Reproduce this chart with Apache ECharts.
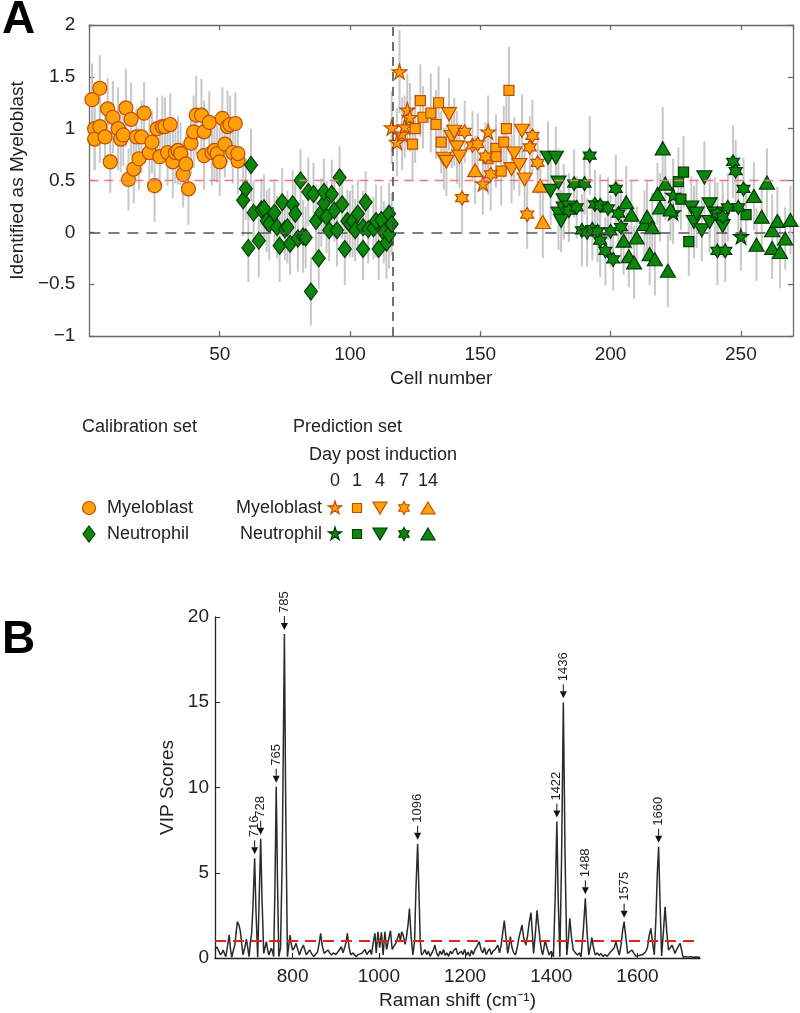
<!DOCTYPE html>
<html lang="en">
<head>
<meta charset="UTF-8">
<title>Myeloblast prediction and VIP scores</title>
<script src="https://cdn.jsdelivr.net/npm/echarts@6.0.0/dist/echarts.min.js"></script>
<style>
  html, body { margin: 0; padding: 0; background: #fff; }
  #chart { width: 800px; height: 1013px; }
</style>
</head>
<body>
<div id="chart"></div>
<script>
// ---- panel A data: [cell number, score, half error bar] ----
const calMyelo = [
  [1,1.28,0.35],[2,1.00,0.40],[2,0.90,0.30],[4,1.39,0.32],[4,1.02,0.35],[6,0.92,0.28],[7,1.19,0.30],[8,0.68,0.30],
  [9,1.11,0.35],[11,1.00,0.40],[12,0.90,0.32],[13,0.94,0.30],[14,1.20,0.38],[15,0.51,0.30],[16,1.09,0.35],[17,0.61,0.33],
  [18,0.92,0.28],[19,0.71,0.30],[20,0.92,0.35],[21,1.15,0.30],[23,0.77,0.32],[24,0.87,0.30],[25,0.45,0.35],[26,1.00,0.30],
  [27,0.73,0.33],[28,1.02,0.30],[29,1.02,0.28],[30,0.77,0.32],[31,1.04,0.30],[32,0.68,0.35],[33,0.77,0.30],[34,0.79,0.33],
  [35,0.76,0.30],[36,0.56,0.32],[37,0.66,0.30],[38,0.42,0.35],[39,0.86,0.30],[40,0.97,0.35],[41,1.13,0.38],[43,1.13,0.35],
  [44,0.97,0.30],[44,0.74,0.33],[46,1.06,0.30],[47,0.77,0.32],[48,0.79,0.30],[49,0.76,0.28],[50,0.68,0.33],[51,1.10,0.30],
  [52,0.85,0.32],[53,1.02,0.35],[54,1.04,0.28],[55,0.77,0.30],[56,1.05,0.30],[57,0.69,0.32],[57,0.76,0.30]
];
const calNeutro = [
  [59,0.31,0.35],[60,0.42,0.30],[61,-0.15,0.33],[62,0.65,0.35],[63,0.19,0.30],[65,-0.08,0.35],[66,0.22,0.30],[67,0.23,0.33],
  [68,0.11,0.30],[69,0.08,0.35],[71,0.19,0.32],[72,0.05,0.30],[73,-0.13,0.35],[74,0.29,0.33],[75,0.03,0.30],[76,0.05,0.35],
  [77,-0.11,0.30],[78,0.27,0.33],[79,0.18,0.30],[80,-0.06,0.32],[81,0.50,0.30],[82,-0.04,0.35],[83,-0.05,0.30],[84,0.39,0.33],
  [85,-0.57,0.33],[86,0.37,0.30],[87,0.11,0.35],[88,-0.25,0.30],[89,0.19,0.33],[90,0.28,0.30],[90,0.39,0.32],[91,0.15,0.35],
  [92,0.02,0.30],[93,0.37,0.33],[94,0.21,0.30],[95,0.02,0.35],[96,0.53,0.30],[97,0.27,0.33],[98,-0.16,0.35],[99,0.11,0.30],
  [100,0.08,0.32],[101,0.11,0.35],[102,0.02,0.30],[103,0.18,0.33],[105,-0.16,0.30],[105,0.05,0.35],[106,0.29,0.30],[107,0.03,0.33],
  [109,0.04,0.30],[110,0.11,0.35],[111,-0.16,0.30],[112,0.12,0.33],[113,0.00,0.30],[114,-0.10,0.35],[115,0.18,0.30],[115,-0.02,0.33],
  [116,0.08,0.30]
];
// prediction set, myeloblast, by day post induction
const myeloDay0 = [[116,1.01,0.35],[118,0.87,0.33],[119,1.55,0.40],[120,0.95,0.35],[121,1.02,0.30],[122,1.18,0.35],[123,1.11,0.33],[151,0.47,0.30],[153,0.97,0.35]];
const myeloDay1 = [[124,0.85,0.35],[125,1.00,0.33],[127,1.27,0.35],[128,1.11,0.30],[131,1.15,0.38],[133,1.04,0.33],[134,1.25,0.35],[135,0.87,0.30],
  [153,0.71,0.35],[156,0.81,0.33],[156,0.73,0.30],[158,0.59,0.33],[159,0.87,0.35],[160,1.00,0.33],[161,1.37,0.42]];
const myeloDay4 = [[136,0.71,0.30],[137,0.68,0.33],[138,1.14,0.35],[139,0.92,0.30],[140,0.97,0.33],[141,0.82,0.35],[142,0.73,0.30],
  [162,0.61,0.33],[163,0.76,0.35],[165,0.65,0.30],[166,0.98,0.35],[167,0.51,0.33]];
const myeloDay7 = [[143,0.33,0.35],[144,0.97,0.30],[147,0.84,0.33],[149,0.85,0.30],[152,0.73,0.33],[154,0.56,0.35],[168,0.17,0.33],[169,0.82,0.30],[170,0.93,0.35],[172,0.67,0.30]];
const myeloDay14 = [[148,0.60,0.33],[173,0.45,0.35],[174,0.10,0.35]];
// prediction set, neutrophil, by day post induction
const neutroDay0 = [[224,0.36,0.35],[224,0.19,0.30],[250,-0.04,0.33]];
const neutroDay1 = [[226,0.49,0.33],[227,0.32,0.30],[228,0.58,0.35],[230,-0.09,0.33],[252,0.17,0.30]];
const neutroDay4 = [[176,0.72,0.35],[177,0.40,0.33],[179,0.72,0.30],[180,0.18,0.35],[180,0.48,0.33],[181,0.11,0.30],[182,0.31,0.35],[182,0.23,0.30],
  [184,0.24,0.33],[231,0.24,0.30],[232,0.10,0.35],[233,0.18,0.33],[235,0.02,0.30],[236,0.53,0.35],[238,0.27,0.33],[238,0.10,0.30],[240,0.18,0.35],[243,0.06,0.30]];
const neutroDay7 = [[184,0.21,0.30],[186,0.47,0.33],[187,0.24,0.30],[189,0.02,0.35],[190,0.47,0.30],[191,0.00,0.33],[192,0.74,0.38],[193,0.03,0.30],
  [194,0.27,0.33],[195,0.01,0.30],[196,-0.08,0.35],[196,0.26,0.30],[198,-0.18,0.33],[199,0.23,0.30],[200,0.01,0.35],[201,-0.26,0.30],
  [202,0.42,0.33],[203,0.18,0.30],[204,0.05,0.35],[241,-0.18,0.33],[241,0.18,0.30],[243,0.15,0.35],[244,-0.18,0.30],[245,0.24,0.33],
  [247,0.68,0.35],[248,0.59,0.30],[249,0.24,0.33],[251,0.42,0.30]];
const neutroDay14 = [[205,-0.08,0.33],[206,0.29,0.35],[207,-0.23,0.30],[208,0.17,0.33],[209,-0.29,0.35],[210,-0.05,0.30],[213,0.08,0.33],
  [214,0.15,0.35],[215,-0.21,0.30],[216,0.05,0.33],[217,-0.26,0.35],[218,0.37,0.30],[219,0.24,0.33],[220,0.81,0.40],[221,0.47,0.35],
  [222,-0.37,0.35],[223,0.22,0.30],[255,0.35,0.33],[256,-0.12,0.35],[258,0.15,0.30],[260,0.48,0.33],[262,0.02,0.35],[262,-0.15,0.30],
  [264,0.11,0.33],[265,-0.19,0.35],[267,-0.06,0.30],[269,0.12,0.33]];
const dayLabels = ['0', '1', '4', '7', '14'];

// ---- panel B data: [Raman shift, VIP score] ----
const vipSpectrum = [
  [620,0.47],[624,0.66],[628,0.66],[633,0.18],[636,0.3],[639,0.47],[642,0.25],[645,0.08],[649,0.7],[653,1.35],[656,0.5],[659,0.04],
  [662,0.4],[666,0.76],[669,1.5],[672,2.13],[676,1.9],[679,1.54],[682,0.8],[685,0.18],[689,0.6],[693,1.1],[696,0.6],[699,0.08],
  [702,0.9],[705,1.45],[708,3.0],[712,5.85],[715,2.8],[719,0.04],[722,3.0],[726,7.0],[729,3.5],[733,0.27],[736,0.6],[739,0.96],
  [742,0.5],[745,0.18],[748,0.4],[751,0.57],[754,0.3],[756,0.08],[759,4.0],[762,10.05],[765,4.5],[768,0.08],[772,0.6],[776,6.0],
  [781,19.0],[784,9.0],[788,0.08],[791,0.7],[794,1.35],[797,0.8],[800,0.47],[804,0.6],[808,0.86],[812,0.5],[816,0.18],[820,0.5],
  [825,0.76],[828,0.5],[832,0.18],[836,0.35],[840,0.47],[844,0.25],[849,0.08],[853,0.2],[858,0.37],[862,0.9],[865,1.45],[869,0.7],
  [873,0.27],[877,0.35],[882,0.47],[886,0.3],[890,0.18],[895,0.3],[900,0.2],[905,0.35],[909,0.5],[913,0.66],[917,0.3],[921,0.4],
  [924,0.9],[927,1.45],[931,0.6],[935,0.18],[939,0.3],[943,0.2],[948,0.08],[952,0.2],[956,0.15],[960,0.27],[964,0.3],[968,0.5],
  [972,0.2],[976,0.35],[980,0.47],[983,0.2],[987,0.9],[991,1.45],[994,0.3],[998,1.54],[1002,0.6],[1006,1.5],[1010,0.18],[1014,1.54],
  [1018,0.5],[1022,0.6],[1027,1.6],[1031,0.5],[1035,0.4],[1040,0.9],[1044,1.2],[1047,1.45],[1050,1.0],[1053,1.54],[1057,1.3],[1061,0.8],
  [1064,1.2],[1068,2.0],[1071,2.9],[1075,1.2],[1079,0.18],[1083,1.0],[1086,4.0],[1090,6.7],[1093,4.0],[1096,1.0],[1099,0.18],[1103,0.3],
  [1107,0.5],[1111,0.2],[1115,0.4],[1119,0.1],[1123,0.3],[1127,0.5],[1130,0.76],[1134,0.3],[1138,0.1],[1142,0.4],[1146,0.2],[1150,0.5],
  [1154,0.15],[1158,0.3],[1162,0.1],[1166,0.4],[1170,0.25],[1174,0.45],[1179,0.57],[1183,0.2],[1187,0.1],[1191,0.4],[1195,0.2],[1199,0.5],
  [1203,0.15],[1207,0.35],[1211,0.1],[1215,0.45],[1219,0.2],[1223,0.5],[1228,0.7],[1233,0.96],[1237,0.5],[1241,0.3],[1245,0.6],[1249,0.2],
  [1253,0.4],[1257,0.55],[1261,0.2],[1265,0.4],[1270,0.5],[1276,0.76],[1280,0.3],[1284,0.8],[1288,1.6],[1291,2.2],[1295,1.2],[1299,0.27],
  [1302,0.7],[1305,1.25],[1309,0.6],[1313,0.3],[1317,0.18],[1321,0.6],[1325,1.2],[1329,1.6],[1332,1.93],[1336,1.2],[1341,0.76],[1345,1.3],
  [1349,2.1],[1353,2.66],[1356,1.5],[1359,0.27],[1363,1.4],[1367,2.8],[1370,2.0],[1374,1.05],[1377,0.5],[1380,0.18],[1383,0.6],[1386,1.05],
  [1390,0.6],[1395,0.18],[1400,0.4],[1405,0.08],[1409,3.5],[1413,8.0],[1416,3.5],[1420,0.08],[1424,6.0],[1428,15.0],[1432,6.0],[1436,0.18],
  [1440,1.2],[1443,2.33],[1447,1.2],[1451,0.47],[1456,0.3],[1461,0.18],[1465,0.3],[1469,0.08],[1474,1.5],[1479,3.5],[1483,1.5],[1487,0.18],
  [1491,0.7],[1494,1.21],[1498,0.6],[1502,0.18],[1507,0.3],[1511,0.15],[1515,0.27],[1520,0.1],[1525,0.2],[1530,0.1],[1534,0.25],[1538,0.37],
  [1542,0.3],[1546,0.6],[1550,0.96],[1554,0.5],[1558,0.18],[1562,0.8],[1566,1.7],[1569,2.13],[1573,1.2],[1577,0.27],[1581,0.3],[1587,0.47],
  [1591,0.3],[1596,0.12],[1600,0.2],[1604,0.15],[1608,0.08],[1612,0.2],[1616,0.3],[1619,0.37],[1623,0.6],[1627,1.3],[1631,1.74],[1635,0.9],
  [1639,0.18],[1643,2.5],[1646,5.0],[1649,6.53],[1652,3.5],[1656,0.12],[1660,1.5],[1664,3.0],[1668,1.5],[1672,0.47],[1676,0.6],[1680,0.76],
  [1684,0.5],[1687,0.27],[1691,0.5],[1695,0.7],[1699,0.86],[1702,0.5],[1706,0.04],[1712,0.08],[1718,0.05],[1723,0.08],[1730,0.05],
  [1735,0.06],[1739,0.04],[1745,0.05]
];
const peakShift = [712, 726, 762, 781, 1090, 1413, 1428, 1479, 1569, 1649];
const peakVip   = [5.85, 7.0, 10.05, 19.0, 6.7, 8.0, 15.0, 3.5, 2.13, 6.53];
const peakLabel = ['716', '728', '765', '785', '1096', '1422', '1436', '1488', '1575', '1660'];
const ramanTicks = [800, 1000, 1200, 1400, 1600];

// ---- styles ----
const FONT = "'Liberation Sans', Arial, Helvetica, sans-serif";
const ORANGE = '#ffa20a', ORANGE_EDGE = '#c24d00';
const GREEN = '#0b870b', GREEN_EDGE = '#053a05';
// marker outlines on a 100x100 box
const SHAPE = {
  diamond: [[50,0],[100,50],[50,100],[0,50]],
  square: [[0,0],[100,0],[100,100],[0,100]],
  triUp: [[50,0],[100,100],[0,100]],
  triDown: [[0,0],[100,0],[50,100]],
  star5: [[50,0],[61.2,34.5],[97.6,34.5],[68.2,55.9],[79.4,90.5],[50,69.1],[20.6,90.5],[31.8,55.9],[2.4,34.5],[38.8,34.5]],
  star6: [[50,0],[64.4,25],[93.3,25],[78.9,50],[93.3,75],[64.4,75],[50,100],[35.6,75],[6.7,75],[21.1,50],[6.7,25],[35.6,25]]
};
const SYM = { circle: 'circle' };
Object.keys(SHAPE).forEach(k => {
  SYM[k] = 'path://M' + SHAPE[k].map(p => p.join(',')).join('L') + 'Z';
});
const SIZE = { circle: [14, 14], diamond: [13, 17], square: [10, 10], triUp: [15, 13], triDown: [15, 13], star5: [15, 15], star6: [13, 14] };
const daySyms = ['star5', 'square', 'triDown', 'star6', 'triUp'];

const groups = [
  { data: calMyelo, sym: 'circle', fill: ORANGE, edge: ORANGE_EDGE },
  { data: calNeutro, sym: 'diamond', fill: GREEN, edge: GREEN_EDGE },
  { data: myeloDay0, sym: 'star5', fill: ORANGE, edge: ORANGE_EDGE },
  { data: myeloDay1, sym: 'square', fill: ORANGE, edge: ORANGE_EDGE },
  { data: myeloDay4, sym: 'triDown', fill: ORANGE, edge: ORANGE_EDGE },
  { data: myeloDay7, sym: 'star6', fill: ORANGE, edge: ORANGE_EDGE },
  { data: myeloDay14, sym: 'triUp', fill: ORANGE, edge: ORANGE_EDGE },
  { data: neutroDay0, sym: 'star5', fill: GREEN, edge: GREEN_EDGE },
  { data: neutroDay1, sym: 'square', fill: GREEN, edge: GREEN_EDGE },
  { data: neutroDay4, sym: 'triDown', fill: GREEN, edge: GREEN_EDGE },
  { data: neutroDay7, sym: 'star6', fill: GREEN, edge: GREEN_EDGE },
  { data: neutroDay14, sym: 'triUp', fill: GREEN, edge: GREEN_EDGE }
];
const allPoints = [].concat(...groups.map(g => g.data));

const minus = v => (v < 0 ? '\u2212' + Math.abs(v) : String(v));

// error bars behind the markers
const errorBars = {
  type: 'custom', xAxisIndex: 0, yAxisIndex: 0, z: 1, silent: true,
  data: allPoints, encode: { x: 0, y: 1 },
  renderItem: (params, api) => {
    const x = api.value(0), y = api.value(1), e = api.value(2);
    const lo = api.coord([x, y - e]), hi = api.coord([x, y + e]);
    return { type: 'line', shape: { x1: lo[0], y1: lo[1], x2: hi[0], y2: hi[1] }, style: { stroke: '#c8c8c8', lineWidth: 2 } };
  }
};

const refLines = {
  type: 'line', xAxisIndex: 0, yAxisIndex: 0, data: [], z: 2, silent: true,
  markLine: {
    symbol: 'none', silent: true, label: { show: false }, animation: false,
    data: [
      { yAxis: 0.5, lineStyle: { color: '#f07878', type: [9, 6], width: 1.4 } },
      { yAxis: 0, lineStyle: { color: '#555', type: [11, 8], width: 1.5 } },
      { xAxis: 116.5, lineStyle: { color: '#444', type: [9, 6], width: 1.5 } }
    ]
  }
};

const markerSeries = groups.map(g => ({
  type: 'scatter', xAxisIndex: 0, yAxisIndex: 0, z: 3,
  data: g.data.map(d => [d[0], d[1]]),
  symbol: SYM[g.sym], symbolSize: SIZE[g.sym],
  itemStyle: { color: g.fill, borderColor: g.edge, borderWidth: 1.2, opacity: 1 }
}));

const spectrum = {
  type: 'line', xAxisIndex: 1, yAxisIndex: 2, data: vipSpectrum,
  showSymbol: false, symbol: 'none', z: 3,
  lineStyle: { color: '#2a2a2a', width: 1.5 },
  markLine: {
    symbol: 'none', silent: true, label: { show: false }, animation: false,
    data: [{ yAxis: 1, lineStyle: { color: '#e8201a', type: [11, 7], width: 2 } }]
  }
};

const peakArrows = {
  type: 'custom', xAxisIndex: 1, yAxisIndex: 2, z: 4, silent: true, clip: false,
  data: peakShift.map((s, i) => [s, peakVip[i]]),
  renderItem: (params, api) => {
    const p = api.coord([api.value(0), api.value(1)]);
    const tip = p[1] - 4;
    return {
      type: 'group',
      children: [
        { type: 'polygon', shape: { points: [[p[0] - 3.5, tip - 7], [p[0] + 3.5, tip - 7], [p[0], tip]] }, style: { fill: '#111' } },
        { type: 'line', shape: { x1: p[0], y1: tip - 7, x2: p[0], y2: tip - 14 }, style: { stroke: '#111', lineWidth: 1 } },
        { type: 'text', x: p[0], y: tip - 17, rotation: Math.PI / 2,
          style: { text: peakLabel[params.dataIndex], fill: '#222', font: '13px ' + FONT, align: 'left', verticalAlign: 'middle' } }
      ]
    };
  }
};

// ---- legend drawn as graphics ----
function mark(sym, cx, cy, fill, edge) {
  const w = SIZE[sym][0] - 1, h = SIZE[sym][1] - 1;
  const style = { fill: fill, stroke: edge, lineWidth: 1.2 };
  if (sym === 'circle') return { type: 'circle', shape: { cx: cx, cy: cy, r: w / 2 }, style: style };
  const pts = SHAPE[sym].map(p => [cx - w / 2 + p[0] * w / 100, cy - h / 2 + p[1] * h / 100]);
  return { type: 'polygon', shape: { points: pts }, style: style };
}
function txt(text, x, y, align, size, weight) {
  return { type: 'text', x: x, y: y, style: { text: text, fill: weight ? '#000' : '#222', align: align, verticalAlign: 'middle', font: (weight || '') + ' ' + size + 'px ' + FONT } };
}
const dayX = [335, 357, 380, 404, 428];
const legendEls = [
  txt('A', 2, 20, 'left', 46, 'bold'),
  txt('B', 2, 640, 'left', 46, 'bold'),
  txt('Calibration set', 82, 427, 'left', 18),
  txt('Prediction set', 293, 427, 'left', 18),
  txt('Day post induction', 309, 455, 'left', 18),
  txt('Myeloblast', 107, 508, 'left', 18),
  txt('Neutrophil', 107, 534, 'left', 18),
  txt('Myeloblast', 322, 508, 'right', 18),
  txt('Neutrophil', 322, 534, 'right', 18),
  mark('circle', 89, 508, ORANGE, ORANGE_EDGE),
  mark('diamond', 89, 534, GREEN, GREEN_EDGE)
];
dayLabels.forEach((d, i) => {
  legendEls.push(txt(d, dayX[i], 481, 'center', 18));
  legendEls.push(mark(daySyms[i], dayX[i], 508, ORANGE, ORANGE_EDGE));
  legendEls.push(mark(daySyms[i], dayX[i], 534, GREEN, GREEN_EDGE));
});

const axisA = { show: true, onZero: false, lineStyle: { color: '#6a6a6a', width: 1.3 } };
const axisB = { show: true, onZero: false, lineStyle: { color: '#222', width: 1.3 } };
const tickIn = { show: true, inside: true, length: 5, lineStyle: { color: '#6a6a6a', width: 1.3 } };
const labelStyle = { color: '#222', fontFamily: FONT, fontSize: 19 };
const nameStyle = { color: '#222', fontSize: 19, fontFamily: FONT };

const option = {
  animation: false,
  backgroundColor: '#fff',
  textStyle: { fontFamily: FONT },
  grid: [
    { left: 87, top: 25, right: 7, height: 311 },
    { left: 215, top: 617, right: 100, height: 341 }
  ],
  xAxis: [
    { type: 'value', gridIndex: 0, position: 'bottom', min: 0, max: 270, interval: 50,
      axisLine: axisA, axisTick: tickIn, splitLine: { show: false },
      axisLabel: Object.assign({ margin: 9, showMinLabel: false, showMaxLabel: false,
        formatter: v => (v > 0 && v % 50 === 0 ? String(v) : '') }, labelStyle),
      name: 'Cell number', nameLocation: 'middle', nameGap: 33, nameTextStyle: nameStyle },
    { type: 'value', gridIndex: 1, position: 'bottom', min: 620, max: 1745,
      axisLine: axisB,
      axisTick: { show: true, inside: true, length: 5, customValues: ramanTicks, lineStyle: { color: '#222' } },
      splitLine: { show: false },
      axisLabel: Object.assign({ margin: 9, customValues: ramanTicks, formatter: v => String(v) }, labelStyle),
      name: 'Raman shift (cm\u207B\u00B9)', nameLocation: 'middle', nameGap: 33, nameTextStyle: nameStyle },
    { type: 'value', gridIndex: 0, position: 'top', min: 0, max: 270, interval: 50,
      axisLine: axisA, axisTick: tickIn, axisLabel: { show: false }, splitLine: { show: false } }
  ],
  yAxis: [
    { type: 'value', gridIndex: 0, position: 'left', min: -1, max: 2, interval: 0.5,
      axisLine: axisA, axisTick: tickIn, splitLine: { show: false },
      axisLabel: Object.assign({ margin: 14, formatter: minus }, labelStyle),
      name: 'Identified as Myeloblast', nameLocation: 'middle', nameGap: 50, nameRotate: 90, nameTextStyle: nameStyle },
    { type: 'value', gridIndex: 0, position: 'right', min: -1, max: 2, interval: 0.5,
      axisLine: axisA, axisTick: tickIn, axisLabel: { show: false }, splitLine: { show: false } },
    { type: 'value', gridIndex: 1, position: 'left', min: 0, max: 20, interval: 5,
      axisLine: axisB,
      axisTick: { show: true, inside: true, length: 5, lineStyle: { color: '#222' } },
      splitLine: { show: false },
      axisLabel: Object.assign({ margin: 6 }, labelStyle),
      name: 'VIP Scores', nameLocation: 'middle', nameGap: 36, nameRotate: 90, nameTextStyle: nameStyle }
  ],
  graphic: { elements: legendEls },
  series: [errorBars, refLines].concat(markerSeries, [spectrum, peakArrows])
};

const chart = echarts.init(document.getElementById('chart'), null, { renderer: 'canvas' });
chart.setOption(option);
</script>
</body>
</html>
